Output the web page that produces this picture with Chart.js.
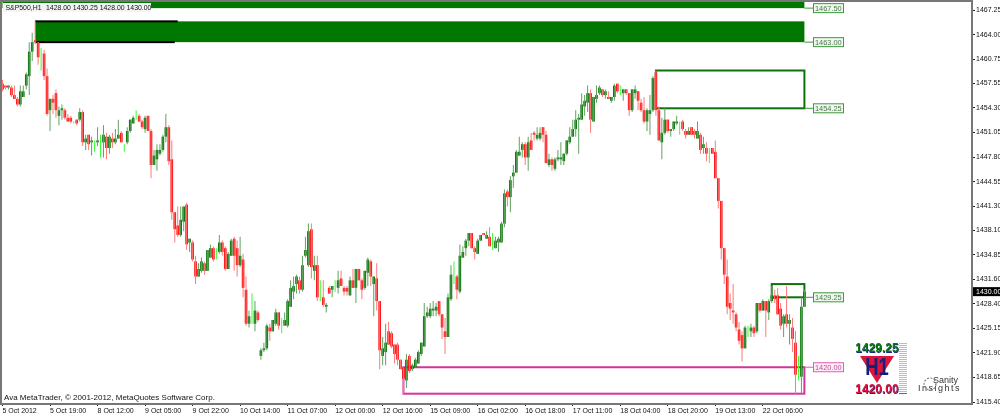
<!DOCTYPE html>
<html>
<head>
<meta charset="utf-8">
<title>S&amp;P500,H1</title>
<script src="https://cdn.jsdelivr.net/npm/chart.js@4"></script>
<style>
  html, body { margin: 0; padding: 0; background: #fff; overflow: hidden; }
  canvas { display: block; }
</style>
</head>
<body>
<canvas id="chart" width="1000" height="417"></canvas>
<script>
// hourly candles, one position per bar
const opens = [
  1457.5,1457.25,1457,1457,1456,1455.5,1454.75,1455.75,1457.25,1458.5,
  1461.75,1463.25,1463,1461.5,1461.5,1458.5,1454,1455.5,1456.25,1453.25,
  1454,1454,1453,1453,1452.5,1452.75,1452.75,1453.75,1449.75,1450.75,
  1449.75,1449.75,1449.75,1450,1449.75,1450.5,1449,1450.25,1449.75,1450.25,
  1451,1449.25,1449.75,1451.25,1452.25,1453,1453.25,1452.5,1451.5,1453.25,
  1451.25,1446.75,1447.5,1448.25,1448.75,1450.5,1451.75,1447.5,1440.5,1438.75,
  1437.5,1439.25,1441.5,1436.5,1436.5,1434,1432,1432.75,1433.75,1432.75,
  1434.5,1435.75,1435,1435.25,1436.5,1435.75,1433,1434.75,1437,1435.75,
  1433.5,1434.25,1430.25,1425.75,1426.75,1425.75,1427.25,1421.5,1422.25,1422.5,
  1425.25,1424.75,1425.75,1427.25,1425.75,1425.5,1425.5,1428,1430,1431,
  1431.5,1430.25,1434.75,1433.5,1438.25,1432.75,1433.5,1429.25,1429.25,1428,
  1430.5,1430.25,1430.5,1430.5,1431.75,1430.5,1430.5,1429.5,1431.5,1430.5,
  1433,1431.5,1430.5,1432.5,1434,1431,1431.75,1428.75,1421.5,1422,
  1424.75,1424.5,1423,1423,1421,1420,1418.25,1421.5,1419.75,1420,
  1420.5,1421.75,1422.75,1426.75,1426.75,1427.5,1427.5,1428.75,1427,1424.75,
  1424,1429,1432,1432,1430,1434.5,1435.75,1436.75,1437.75,1435.75,
  1435,1436.75,1437.75,1437,1437.25,1436.75,1435.75,1436.5,1436.5,1439,
  1443.25,1442.5,1445.25,1445.75,1448,1448.75,1449.5,1447.75,1450,1451,
  1450.25,1450.25,1451.75,1450.75,1446.75,1447.5,1446.25,1447.5,1447.5,1447.25,
  1448.25,1449.75,1450.5,1451.5,1452.75,1452.75,1454.5,1455,1456.25,1452.5,
  1455.5,1456.25,1456.75,1456,1455.75,1455.25,1455.75,1457.5,1456.5,1456.25,
  1456.75,1456.25,1454,1456.25,1456.5,1455,1454,1452.5,1453.5,1454,
  1459,1454,1449.75,1451,1452.75,1451.25,1451.5,1452.25,1452.25,1452.5,
  1451.25,1450.75,1451.75,1451.25,1450.25,1450.75,1449,1449,1448.75,1449,
  1448.5,1445,1442,1435.75,1432,1428.5,1427.5,1427,1425,1424.25,
  1422.5,1425,1424.75,1425.25,1424.75,1428.5,1427.5,1428.75,1427.25,1428.75,
  1429.5,1429.5,1427.75,1425.75,1427,1425.75,1425.25,1423.25,1419.5,1418.75,
  1428
];
const highs = [
  1458,1457.25,1457.25,1457.25,1457.25,1455.75,1457.25,1457.25,1459,1463,
  1464.25,1465.75,1463,1462.25,1462,1459.5,1455.5,1456,1456.75,1454.5,
  1454.75,1454.25,1453.5,1453.25,1452.5,1452.75,1454.25,1454,1450.75,1450.75,
  1450.5,1450,1451.75,1450.75,1452,1451,1450.75,1451,1451.5,1452.75,
  1451.25,1449.5,1451.75,1452.75,1453.25,1454,1453.5,1452.75,1453.25,1453.25,
  1451.5,1448.75,1449.5,1449.5,1450.75,1453.5,1452,1450,1440.5,1441.25,
  1441.25,1441.25,1441.75,1437,1436.75,1434.75,1433.75,1434.5,1434,1435.5,
  1436.25,1436,1435.75,1437.5,1436.75,1436,1435.25,1437,1437.25,1436.75,
  1437.25,1435,1432,1427.5,1429.75,1428.75,1427.5,1422.5,1423.25,1425.75,
  1425.75,1426.25,1427.75,1427.25,1426.5,1427.25,1429,1431.5,1432,1432.25,
  1432,1434.75,1437.25,1439,1439,1434.75,1434.75,1431.5,1431.5,1428.5,
  1430.75,1430.75,1431.5,1432.75,1432.75,1430.75,1430.75,1432,1433,1433,
  1433,1431.75,1432.75,1434.5,1434.25,1432,1433.75,1428.75,1424,1425.75,
  1426,1424.75,1423,1423.25,1421,1420,1421.75,1421.75,1420.5,1421.25,
  1422.25,1423.25,1428.5,1428,1428.5,1428.75,1428.5,1428.75,1427,1426.5,
  1429.75,1433.5,1434,1432.25,1436.25,1436,1437,1437.75,1437.75,1436,
  1437,1437.5,1437.75,1438,1438.5,1437.75,1437.25,1437.25,1439.25,1443.5,
  1443.5,1445.25,1446.75,1448.75,1450.5,1449.75,1449.75,1450.5,1451,1451.25,
  1451.75,1451.75,1451.75,1451.25,1448.25,1447.75,1447.75,1448.75,1449.75,1448.25,
  1450,1451.75,1452.75,1454,1453.5,1456.25,1456,1457.25,1456.75,1455.75,
  1457.25,1457.25,1456.75,1456.75,1456.5,1455.75,1457.5,1457.5,1457.25,1456.75,
  1456.75,1456.25,1456.75,1457.25,1456.5,1455.5,1455.75,1454.25,1456,1458.5,
  1459.25,1454.5,1453,1454.25,1452.75,1451.5,1452.5,1453.25,1452.5,1452.75,
  1451.5,1451.75,1451.75,1451.5,1452.5,1451,1450.5,1449.75,1449,1449,
  1450,1445,1442,1435.75,1434.25,1429.75,1431,1427.25,1426,1424.75,
  1425.5,1425.5,1425.75,1425.5,1428.5,1428.5,1429,1428.75,1429,1430.75,
  1430.25,1430.5,1428.5,1427,1430.75,1427,1426.5,1424.75,1421.5,1429.25,
  1430.25
];
const lows = [
  1456.5,1456.75,1456.75,1455.75,1455.5,1454.5,1454.5,1455.75,1456.75,1456,
  1460.5,1462.75,1460,1459.25,1458,1453.25,1451.25,1453.5,1453,1452,
  1452.75,1452.75,1452.5,1452.25,1452.25,1452,1452.5,1449.25,1448.75,1448.75,
  1448,1448.5,1449.25,1447.75,1447.75,1447.5,1448.25,1449,1449.5,1450.25,
  1449.75,1448.5,1449.5,1451,1452.25,1452.75,1452.5,1451.5,1451,1451.25,
  1445,1446.75,1446,1448,1448.5,1449.75,1446.75,1439.5,1436.5,1437.25,
  1437.25,1438,1435.5,1435.25,1434,1431,1432,1432.5,1432.25,1432.75,
  1434.5,1434,1434.25,1435,1434.75,1432.75,1433,1434.75,1432.75,1432,
  1433.25,1429.25,1425.5,1425.25,1425.75,1424.75,1426,1421,1422,1422.25,
  1423.5,1424.75,1425.5,1425,1424.5,1425.5,1425.25,1428,1429,1429.75,
  1429.75,1430,1434.5,1433.25,1431.75,1431.5,1428.75,1428.75,1428,1427.25,
  1429.75,1429.25,1430,1429.75,1430.75,1429.5,1429.5,1429.5,1430.5,1428.5,
  1431.5,1429,1430.25,1430.75,1430.75,1426.75,1427.5,1419.75,1420.25,1420.25,
  1423,1422.5,1420.5,1420.25,1419.75,1416.5,1417.25,1419.25,1419.5,1420,
  1420.5,1421.5,1422.75,1426.5,1426.5,1426.75,1426.75,1426.75,1423.75,1421.75,
  1424,1428.75,1431,1429,1429.75,1434.5,1434.75,1436,1435.75,1434.25,
  1435,1436.75,1437.5,1437,1436,1435.5,1435.75,1435.25,1436.5,1438.5,
  1441.25,1440.5,1443.75,1445.75,1448,1447.75,1446.75,1446,1448.75,1450,
  1450,1450,1449.75,1447,1446.5,1446,1446,1447.25,1446.75,1446.75,
  1448,1449.5,1450.5,1450.5,1448.25,1452.75,1453.25,1453.75,1451,1452.5,
  1455,1456,1455.75,1455.5,1455.5,1455,1455.25,1456.25,1456,1455.25,
  1456,1453.25,1453.75,1455.5,1454,1453.75,1452.25,1451.25,1450.75,1453.75,
  1453.25,1450,1447.5,1450.75,1451,1450.5,1451.25,1452,1450.75,1451.25,
  1450.25,1450.75,1450.75,1450.25,1450.25,1448.25,1448.25,1447.25,1447,1448.25,
  1445,1441,1434.25,1431,1427,1426.25,1425.75,1424.75,1423,1420.75,
  1422.5,1424,1424,1424,1424.5,1427.25,1427.5,1424,1426.25,1428.5,
  1428.5,1427,1425,1424,1425.25,1423,1422,1416.5,1418.25,1416.5,
  1428
];
const closes = [
  1456.75,1457,1457.25,1456,1455.5,1454.75,1456.5,1456.5,1458.75,1461.75,
  1463,1463,1461,1461.5,1458.5,1453.5,1455.5,1455,1454,1454,
  1454.25,1453,1452.5,1452.5,1452.5,1452.25,1453.75,1449.75,1450.25,1449.5,
  1450,1449.75,1450,1450,1450.75,1449,1450.5,1449.75,1450.25,1450.75,
  1449.75,1449.25,1451.25,1452.75,1453,1453,1452.5,1451.75,1453,1451.25,
  1446.75,1448,1448.75,1448.75,1450.5,1451.75,1447.25,1440.5,1438.25,1437.5,
  1439.5,1441.25,1436.25,1437,1434.25,1432,1433,1434,1432.75,1435.5,
  1435.75,1434.25,1435,1436.5,1435.25,1433,1435,1436.75,1434.75,1433.5,
  1434.75,1430.5,1425.75,1426.75,1426.75,1427.5,1426.25,1422.25,1422.5,1425.5,
  1424.75,1426.25,1427.25,1425.5,1425.75,1426.25,1428.75,1430.5,1430.75,1432,
  1430.25,1433.5,1435.5,1438,1433.25,1433.5,1429.25,1429.25,1428.25,1428.25,
  1429.75,1430.75,1430.5,1431.5,1430.75,1430,1430,1431.5,1430.5,1433,
  1431.5,1430.25,1432.75,1434.25,1432,1432,1428.75,1422.25,1422.5,1423.25,
  1423,1422.75,1421.75,1421,1419.75,1418.5,1421,1419.5,1420.25,1421,
  1422,1423.25,1426.75,1427.25,1427.75,1427.75,1428,1427,1425.25,1424,
  1429.25,1432.25,1432,1430.25,1434.75,1435.25,1436.75,1437.75,1435.75,1435.25,
  1436.75,1437.5,1437.5,1437.5,1436,1436.75,1436.75,1437,1439,1443,
  1442.5,1444.75,1445.75,1448.5,1448.5,1449.5,1447.75,1449.75,1448.75,1450.75,
  1450.75,1451,1450.75,1447,1447.5,1446.75,1447.5,1447.75,1447.75,1448.25,
  1450,1450.5,1451.5,1452.75,1453,1454.75,1455.25,1456.25,1452.75,1455.75,
  1456,1457,1456,1456.5,1455.5,1455.75,1457.25,1456.5,1456.5,1456.75,
  1456.25,1454,1456.75,1456.75,1455.25,1454,1452.5,1454,1454,1458.25,
  1454,1450,1451,1452.75,1451.25,1451.5,1452.5,1452.5,1452.25,1451.5,
  1450.75,1451.25,1450.75,1450.75,1451.25,1448.75,1449.5,1448.25,1448.75,1448.25,
  1445,1442,1435.75,1432.25,1428,1427.75,1427.25,1425.25,1423.5,1422.5,
  1425.25,1425,1425.25,1424.5,1428.5,1427.5,1428.75,1427.5,1428.75,1429.5,
  1429,1427,1425.5,1426.75,1425.75,1426.25,1423.75,1419,1419.5,1428,
  1430
];

// axis labels
const barsPerTimeTick = 16;
const timeLabels = ['5 Oct 2012','5 Oct 19:00','8 Oct 12:00','9 Oct 05:00','9 Oct 22:00','10 Oct 14:00',
  '11 Oct 07:00','12 Oct 00:00','12 Oct 16:00','15 Oct 09:00','16 Oct 02:00','16 Oct 18:00',
  '17 Oct 11:00','18 Oct 04:00','18 Oct 20:00','19 Oct 13:00','22 Oct 06:00'];
const priceTicks = [1467.25,1464,1460.75,1457.55,1454.3,1451.05,1447.8,1444.55,1441.3,1438.1,
  1434.85,1431.6,1428.4,1425.15,1421.9,1418.65,1415.4];

// supply and demand zones, bar index and price
const zoneFrom = [0, 11];
const zoneTo = [270, 270];
const zoneTop = [1470, 1465.75];
const zoneBottom = [1467.5, 1463];
const boxFrom = [220, 259, 135];
const boxTo = [270, 270, 270];
const boxTop = [1459.25, 1431, 1420];
const boxBottom = [1454.25, 1429.25, 1416.5];
const boxColors = ['#0c730c', '#0c730c', '#d0359a'];
const edgeTo = [59, 58];
const edgePrices = [1465.75, 1463];
const tagPrices = [1467.5, 1463, 1454.25, 1429.25, 1420];
const lastPrice = 1430;

const FONT = '"Liberation Sans", Arial, sans-serif';
const UP = '#007000', DOWN = '#ff0000', DOJI = '#33ff33';

const barColor = i => closes[i] > opens[i] ? UP : closes[i] < opens[i] ? DOWN : DOJI;
const wickColor = i => closes[i] > opens[i] ? '#5fa35f' : closes[i] < opens[i] ? '#ff7878' : DOJI;

const zonePlugin = {
  id: 'zones',
  beforeDatasetsDraw(chart) {
    const { ctx, chartArea: a, scales: { x, y } } = chart;
    ctx.save();
    ctx.beginPath();
    ctx.rect(a.left, a.top, a.width, a.height);
    ctx.clip();
    ctx.fillStyle = '#007800';
    zoneFrom.forEach((from, k) => {
      const left = x.getPixelForValue(from), right = x.getPixelForValue(zoneTo[k]);
      const top = y.getPixelForValue(zoneTop[k]), bottom = y.getPixelForValue(zoneBottom[k]);
      ctx.fillRect(left, top, right - left, bottom - top);
    });
    // black edges of the older zone
    ctx.fillStyle = '#000';
    edgePrices.forEach((p, k) => {
      const left = x.getPixelForValue(zoneFrom[1]);
      ctx.fillRect(left, y.getPixelForValue(p) - 1, x.getPixelForValue(edgeTo[k]) - left, 2);
    });
    ctx.lineWidth = 2;
    boxFrom.forEach((from, k) => {
      ctx.strokeStyle = boxColors[k];
      const left = x.getPixelForValue(from), right = x.getPixelForValue(boxTo[k]);
      const top = y.getPixelForValue(boxTop[k]), bottom = y.getPixelForValue(boxBottom[k]);
      ctx.strokeRect(left, top, right - left, bottom - top);
    });
    ctx.restore();
  },
  afterDraw(chart) {
    const { ctx, chartArea: a, scales: { x, y } } = chart;
    ctx.save();

    // frame
    ctx.strokeStyle = '#777';
    ctx.lineWidth = 2;
    ctx.strokeRect(a.left - 1, a.top - 1, a.width + 1, a.height + 2);

    // header and copyright
    ctx.textBaseline = 'middle';
    ctx.textAlign = 'left';
    ctx.fillStyle = '#f4f4f4';
    ctx.fillRect(3, 3, 148, 9);
    ctx.fillStyle = '#111';
    ctx.font = '6.9px ' + FONT;
    ctx.fillText('S&P500,H1', 5.5, 8);
    ctx.fillText('1428.00 1430.25 1428.00 1430.00', 46, 8);
    ctx.font = '8px ' + FONT;
    ctx.fillText('Ava MetaTrader, \u00a9 2001-2012, MetaQuotes Software Corp.', 4, 398);

    // price tags to the right of the zones
    const lineEnd = x.getPixelForValue(270);
    tagPrices.forEach(p => {
      const py = y.getPixelForValue(p);
      const pink = p === 1420;
      const col = pink ? '#e05cb4' : '#3d9a3d';
      ctx.strokeStyle = col;
      ctx.lineWidth = 1;
      ctx.beginPath();
      ctx.moveTo(lineEnd, py);
      ctx.lineTo(814, py);
      ctx.stroke();
      ctx.fillStyle = pink ? '#fdeef8' : '#eef8ee';
      ctx.fillRect(813.5, py - 4.5, 30, 9);
      ctx.strokeRect(813.5, py - 4.5, 30, 9);
      ctx.fillStyle = pink ? '#c8489c' : '#4a7a4a';
      ctx.font = '7.4px ' + FONT;
      ctx.fillText(p.toFixed(2), 815, py + 0.5);
    });

    // last price on the axis
    const lastY = y.getPixelForValue(lastPrice);
    ctx.fillStyle = '#000';
    ctx.fillRect(973, lastY - 4.5, 27, 9);
    ctx.fillStyle = '#fff';
    ctx.font = '7px ' + FONT;
    ctx.fillText(lastPrice.toFixed(2), 976, lastY + 0.5);

    // signal panel
    ctx.fillStyle = '#bdbdbd';
    for (let gy = 343; gy < 392; gy += 2) ctx.fillRect(899, gy, 8, 1);
    ctx.fillStyle = '#e03050';
    ctx.fillRect(899, 393, 8, 1);
    ctx.fillStyle = '#dc143c';
    ctx.beginPath();
    ctx.moveTo(860, 356);
    ctx.lineTo(894, 356);
    ctx.lineTo(877, 383);
    ctx.closePath();
    ctx.fill();
    ctx.textAlign = 'center';
    ctx.font = 'bold 12px ' + FONT;
    ctx.fillStyle = '#1a2a80';
    ctx.fillText('1420.00', 877.5, 390.5);
    ctx.fillStyle = '#dc143c';
    ctx.fillText('1420.00', 877, 390);
    ctx.fillStyle = '#1a2a80';
    ctx.fillText('1429.25', 877.5, 349.5);
    ctx.fillStyle = '#0b7a0b';
    ctx.fillText('1429.25', 877, 349);
    ctx.save();
    ctx.translate(877, 369);
    ctx.scale(0.8, 1);
    ctx.font = 'bold 23px ' + FONT;
    ctx.fillStyle = '#14217a';
    ctx.fillText('H1', 0, 0);
    ctx.restore();

    // watermark
    ctx.fillStyle = '#333';
    ctx.font = '9px ' + FONT;
    ctx.textAlign = 'right';
    ctx.fillText('Sanity', 958, 381);
    ctx.letterSpacing = '1.5px';
    ctx.fillText('Insights', 961, 389);
    ctx.letterSpacing = '0px';
    ctx.strokeStyle = '#888';
    ctx.lineWidth = 1.2;
    ctx.setLineDash([2, 1.5]);
    ctx.beginPath();
    ctx.arc(930, 384, 6, 0, Math.PI * 2);
    ctx.stroke();
    ctx.setLineDash([]);
    ctx.restore();
  }
};

new Chart(document.getElementById('chart'), {
  type: 'bar',
  data: {
    datasets: [
      {
        label: 'wicks',
        data: highs.map((h, i) => ({ x: i, y: [lows[i], h] })),
        backgroundColor: highs.map((_, i) => wickColor(i)),
        barThickness: 1,
        inflateAmount: 0
      },
      {
        label: 'bodies',
        data: opens.map((o, i) => ({ x: i, y: [o, closes[i]] })),
        backgroundColor: opens.map((_, i) => barColor(i)),
        barThickness: 2.6,
        inflateAmount: 0
      }
    ]
  },
  options: {
    responsive: false,
    animation: false,
    grouped: false,
    events: [],
    layout: { padding: { left: 2, top: 2, right: 0, bottom: 0 } },
    plugins: { legend: { display: false }, tooltip: { enabled: false } },
    scales: {
      x: {
        type: 'linear',
        offset: false,
        min: -0.17,
        max: 326.43,
        grid: { drawOnChartArea: false, offset: false, color: '#222', tickLength: 3 },
        border: { display: false },
        afterFit: s => { s.height = 14; s.paddingLeft = 0; s.paddingRight = 0; },
        afterBuildTicks: s => { s.ticks = timeLabels.map((_, k) => ({ value: k * barsPerTimeTick })); },
        ticks: {
          autoSkip: false,
          maxRotation: 0,
          align: 'start',
          padding: 1,
          color: '#111',
          font: { family: FONT, size: 7 },
          callback: v => timeLabels[v / barsPerTimeTick]
        }
      },
      y: {
        position: 'right',
        min: 1415.27,
        max: 1468.31,
        grid: { drawOnChartArea: false, color: '#222', tickLength: 3 },
        border: { display: false },
        afterFit: s => { s.width = 28; s.paddingTop = 0; s.paddingBottom = 0; },
        afterBuildTicks: s => { s.ticks = priceTicks.map(v => ({ value: v })); },
        ticks: {
          autoSkip: false,
          padding: 1,
          color: '#111',
          font: { family: FONT, size: 7 },
          callback: v => v.toFixed(2)
        }
      }
    }
  },
  plugins: [zonePlugin]
});
</script>
</body>
</html>
